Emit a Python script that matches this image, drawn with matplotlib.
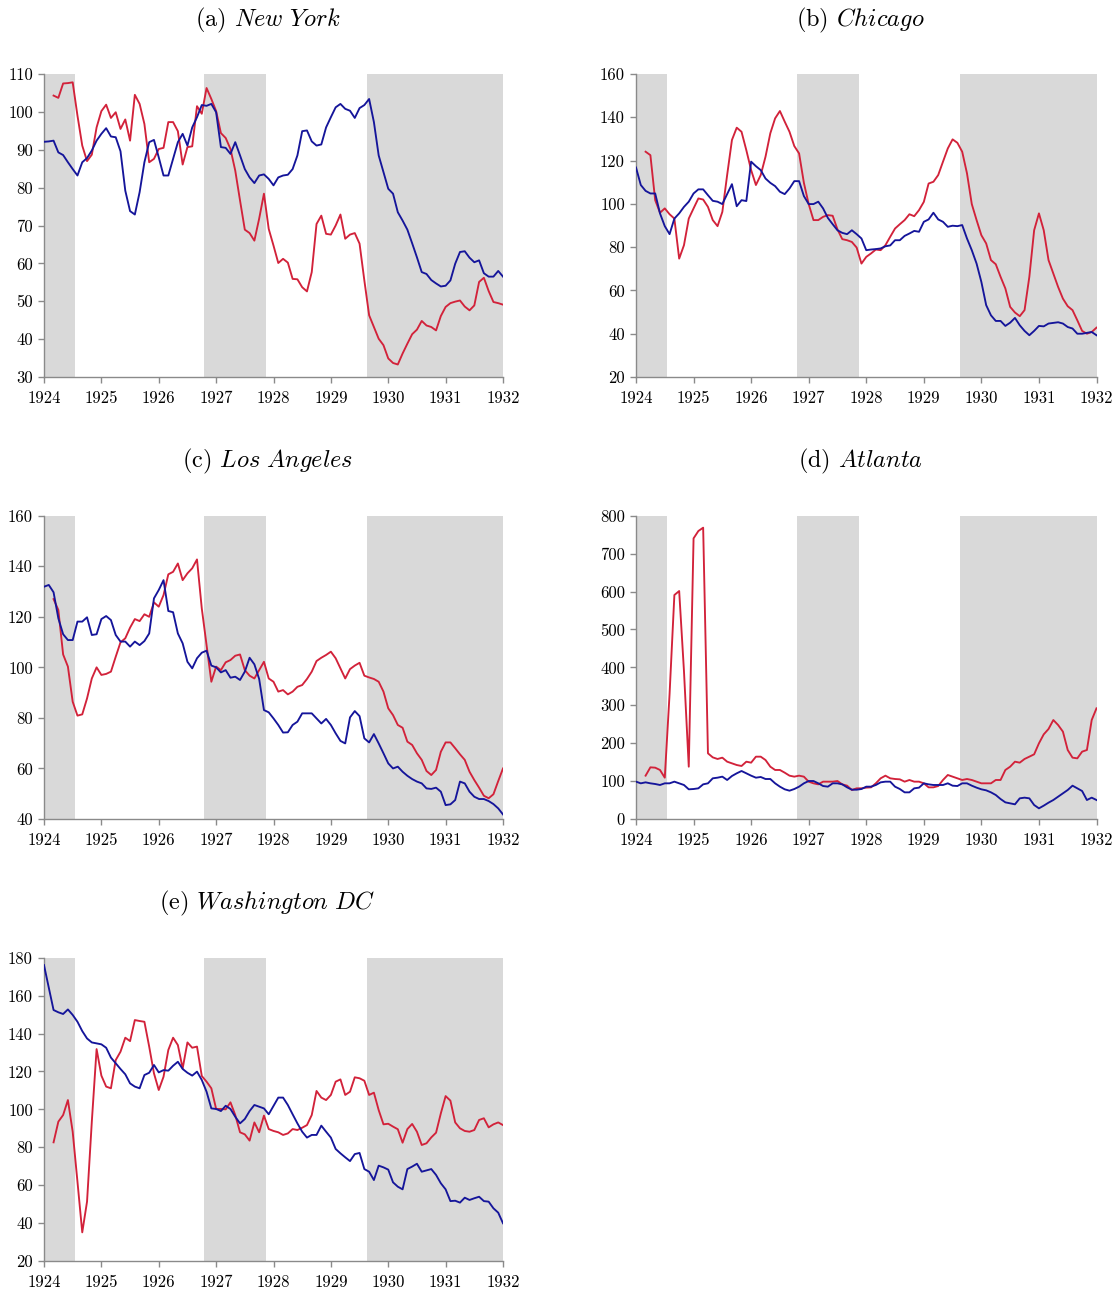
import numpy as np
import matplotlib
matplotlib.use("Agg")
import matplotlib.pyplot as plt

nan = np.nan
years = [1924, 1925, 1926, 1927, 1928, 1929, 1930, 1931, 1932]
# recession shading in months since Jan 1924 (month centres)
recessions = [(-0.5, 6.5), (33.5, 46.5), (67.5, 96.0)]

ny_blue = [92.1, 92.2, 92.4, 89.3, 88.6, 86.7, 84.9, 83.2, 86.7, 87.8,
           89.8, 92.4, 94.2, 95.7, 93.5, 93.3, 89.6, 79.2, 73.8, 72.9,
           78.8, 86.7, 92.0, 92.6, 88.0, 83.2, 83.2, 87.6, 92.0, 94.2,
           91.1, 95.9, 98.6, 101.8, 101.6, 102.1, 99.9, 90.7, 90.5, 88.9,
           92.0, 88.5, 84.9, 82.7, 81.2, 83.2, 83.5, 82.3, 80.6, 82.7,
           83.2, 83.4, 84.9, 88.5, 94.9, 95.1, 92.2, 91.1, 91.4, 95.9,
           98.6, 101.2, 102.1, 100.8, 100.3, 98.4, 101.0, 101.8, 103.4, 97.3,
           88.5, 84.1, 79.7, 78.4, 73.5, 71.3, 68.9, 65.3, 61.6, 57.7,
           57.2, 55.6, 54.7, 53.9, 54.1, 55.5, 59.9, 63.0, 63.2, 61.5,
           60.3, 60.8, 57.4, 56.5, 56.5, 58.0, 56.5]
ny_red = [nan, nan, 104.3, 103.7, 107.5, 107.6, 107.8, 99.0, 91.1, 87.0,
          88.7, 95.9, 100.2, 101.9, 98.4, 99.9, 95.5, 98.0, 92.4, 104.5,
          102.1, 96.8, 86.7, 87.6, 90.2, 90.5, 97.3, 97.3, 94.9, 86.1,
          90.7, 90.9, 101.5, 99.5, 106.3, 103.4, 100.2, 94.4, 93.1, 90.2,
          84.5, 76.6, 68.9, 68.0, 66.0, 71.8, 78.4, 69.1, 64.7, 60.1,
          61.2, 60.2, 55.9, 55.8, 53.7, 52.6, 57.7, 70.4, 72.6, 67.8,
          67.6, 70.0, 72.9, 66.5, 67.6, 68.0, 65.2, 55.5, 46.3, 43.2,
          40.1, 38.4, 34.9, 33.7, 33.3, 36.2, 38.8, 41.3, 42.5, 44.8,
          43.6, 43.2, 42.3, 46.1, 48.5, 49.5, 49.9, 50.2, 48.6, 47.6,
          48.9, 55.1, 56.2, 52.7, 49.8, 49.5, 49.1]

chi_blue = [116.8, 108.7, 106.0, 104.8, 104.8, 95.6, 89.7, 86.0, 93.2, 95.6,
            98.6, 101.0, 104.8, 106.7, 106.7, 104.0, 101.4, 101.0, 99.9, 104.5,
            109.1, 98.9, 101.7, 101.3, 119.5, 117.4, 115.6, 111.7, 109.7, 108.2,
            105.6, 104.5, 107.1, 110.5, 110.5, 103.6, 99.9, 99.9, 101.0, 97.9,
            93.5, 90.6, 87.8, 86.6, 86.0, 87.8, 86.0, 84.0, 78.6, 78.9,
            79.1, 79.4, 80.4, 80.8, 83.2, 83.2, 85.2, 86.3, 87.5, 87.1,
            91.7, 92.8, 95.9, 92.8, 91.7, 89.4, 89.9, 89.7, 90.2, 84.0,
            78.6, 72.4, 63.9, 53.2, 48.5, 45.9, 45.9, 43.6, 45.1, 47.3,
            43.9, 41.3, 39.3, 41.3, 43.6, 43.4, 44.7, 45.0, 45.3, 44.7,
            43.1, 42.4, 40.0, 40.0, 40.4, 40.8, 39.3]
chi_red = [nan, nan, 124.1, 122.5, 101.7, 95.9, 97.9, 95.2, 93.2, 74.7,
           80.9, 93.2, 97.9, 102.5, 102.0, 98.6, 92.5, 89.7, 96.3, 113.3,
           129.5, 135.2, 133.3, 124.8, 115.6, 108.7, 113.3, 121.8, 132.6, 139.5,
           142.9, 138.0, 133.3, 126.7, 123.3, 109.7, 99.9, 92.5, 92.5, 94.0,
           94.8, 94.5, 88.2, 83.7, 83.2, 82.4, 79.8, 72.4, 75.5, 77.1,
           78.9, 78.6, 80.9, 84.8, 88.6, 90.6, 92.5, 95.2, 94.3, 97.1,
           100.9, 109.4, 110.2, 113.3, 119.5, 125.6, 129.8, 128.2, 124.1, 114.1,
           99.9, 92.5, 85.5, 81.7, 74.0, 72.1, 66.3, 60.9, 52.4, 49.8,
           48.1, 50.9, 66.3, 87.8, 95.6, 87.8, 74.0, 67.8, 61.6, 56.2,
           52.7, 50.9, 46.2, 41.3, 40.0, 40.8, 42.8]

la_blue = [131.9, 132.6, 129.7, 119.4, 113.1, 110.8, 110.8, 118.1, 118.1, 119.8,
           112.8, 113.1, 119.1, 120.3, 118.7, 112.8, 110.2, 110.2, 108.2, 110.2,
           108.8, 110.4, 113.4, 127.3, 130.6, 134.5, 122.3, 121.8, 113.4, 109.5,
           102.2, 99.6, 103.6, 105.8, 106.6, 100.7, 100.0, 98.0, 98.9, 95.9,
           96.3, 95.0, 98.3, 103.8, 101.2, 95.4, 83.1, 82.2, 79.8, 77.2,
           74.2, 74.3, 77.2, 78.5, 81.8, 81.8, 81.8, 79.8, 77.8, 79.6,
           77.2, 73.9, 70.9, 69.9, 80.2, 82.7, 80.7, 71.9, 70.3, 73.6,
           69.9, 66.0, 62.0, 60.0, 60.7, 58.7, 57.1, 55.8, 54.8, 54.1,
           52.1, 51.9, 52.4, 50.8, 45.5, 45.8, 47.5, 54.8, 54.1, 50.8,
           48.8, 47.9, 47.9, 47.1, 45.9, 44.2, 41.8]
la_red = [nan, nan, 127.0, 122.7, 105.1, 100.3, 86.4, 80.9, 81.4, 87.7,
          95.6, 100.0, 97.0, 97.4, 98.3, 104.2, 109.9, 111.5, 115.7, 119.1,
          118.3, 121.0, 120.0, 125.7, 124.0, 128.6, 136.8, 137.8, 141.1, 134.5,
          137.2, 139.2, 142.7, 123.3, 108.8, 94.3, 100.3, 98.9, 102.0, 102.9,
          104.6, 105.1, 98.9, 96.7, 95.6, 98.9, 102.2, 95.6, 94.3, 90.4,
          91.0, 89.3, 90.4, 92.3, 93.0, 95.4, 98.3, 102.5, 103.8, 104.9,
          106.2, 103.6, 99.6, 95.6, 99.3, 100.7, 101.8, 96.7, 96.0, 95.4,
          94.3, 90.4, 83.8, 81.1, 77.2, 76.1, 70.6, 69.3, 66.0, 63.4,
          59.0, 57.4, 59.4, 66.6, 70.3, 70.3, 68.0, 65.6, 63.4, 58.7,
          55.4, 52.4, 49.2, 48.2, 49.8, 55.0, 60.0]

atl_blue = [98.5, 94.1, 96.7, 94.1, 92.3, 89.7, 94.1, 94.1, 98.5, 94.1,
            89.7, 78.3, 79.1, 80.9, 91.4, 94.1, 107.3, 109.0, 111.7, 102.9,
            113.4, 120.5, 126.6, 120.5, 114.3, 109.0, 110.8, 105.5, 105.5, 94.1,
            85.3, 78.3, 74.7, 79.1, 85.3, 94.1, 100.2, 100.2, 94.1, 87.0,
            85.3, 94.1, 94.1, 91.4, 83.5, 77.3, 77.3, 79.1, 85.3, 85.3,
            89.7, 96.7, 98.5, 98.5, 85.3, 79.1, 70.3, 70.3, 80.9, 82.7,
            94.1, 91.4, 89.7, 89.7, 89.7, 94.1, 87.9, 87.0, 94.1, 94.1,
            87.9, 82.7, 78.3, 75.6, 70.3, 63.3, 52.7, 43.9, 41.3, 38.7,
            54.5, 56.3, 54.5, 36.9, 28.1, 35.2, 43.1, 50.1, 58.9, 67.7,
            76.5, 87.9, 80.9, 73.8, 50.1, 56.3, 50.1]
atl_red = [nan, nan, 114.3, 136.3, 135.4, 129.3, 109.0, 330.0, 590.8, 601.3,
           390.0, 138.0, 740.2, 759.6, 768.4, 173.2, 162.6, 158.3, 161.8, 151.2,
           146.8, 142.4, 139.8, 151.2, 148.6, 164.4, 164.4, 155.6, 138.0, 129.3,
           129.3, 122.2, 114.3, 111.7, 114.3, 111.7, 98.5, 94.1, 91.4, 98.5,
           98.5, 98.5, 100.2, 91.4, 87.9, 76.5, 80.9, 80.9, 82.7, 83.5,
           94.1, 107.3, 114.3, 107.3, 105.5, 104.6, 98.5, 102.9, 98.5, 98.5,
           94.1, 83.5, 83.5, 87.0, 102.9, 116.1, 111.7, 107.3, 102.9, 105.5,
           102.9, 98.5, 94.1, 94.1, 94.1, 102.9, 102.9, 129.3, 138.0, 151.2,
           148.6, 158.3, 164.4, 170.6, 199.6, 223.3, 237.4, 261.1, 247.9, 230.4,
           182.0, 161.8, 160.0, 177.6, 182.0, 261.1, 291.9]

dc_blue = [176.1, 164.2, 152.4, 151.2, 150.3, 152.7, 149.8, 146.2, 141.3, 137.4,
           135.3, 134.8, 134.3, 132.5, 127.3, 124.3, 121.3, 118.5, 113.7, 112.0,
           111.1, 118.1, 119.3, 123.4, 119.5, 120.7, 120.4, 123.0, 125.1, 121.3,
           119.3, 117.8, 119.9, 115.5, 109.3, 100.5, 100.2, 99.1, 101.9, 100.2,
           96.1, 92.6, 94.9, 99.1, 102.3, 101.4, 100.5, 97.4, 101.8, 106.2,
           106.2, 102.3, 97.4, 92.6, 88.2, 85.1, 86.5, 86.5, 91.4, 88.2,
           85.1, 79.1, 76.8, 74.7, 72.7, 76.4, 77.0, 68.5, 67.1, 62.7,
           70.3, 69.4, 68.2, 61.5, 59.2, 57.8, 68.5, 69.8, 71.3, 67.1,
           67.8, 68.5, 65.4, 61.0, 57.8, 51.6, 51.8, 50.8, 53.4, 52.2,
           53.1, 53.9, 51.6, 51.3, 47.8, 45.5, 39.9]
dc_red = [nan, nan, 82.6, 93.5, 97.0, 104.9, 88.2, 61.8, 35.1, 51.3,
          93.5, 131.8, 117.8, 112.0, 111.1, 126.0, 130.4, 137.8, 136.0, 147.1,
          146.6, 146.2, 133.1, 119.0, 110.2, 117.2, 131.3, 137.8, 133.9, 121.6,
          135.3, 132.5, 133.1, 117.6, 114.6, 111.1, 100.2, 100.2, 100.0, 103.7,
          97.0, 87.9, 86.8, 83.5, 93.1, 87.9, 96.7, 89.6, 88.6, 87.9,
          86.5, 87.3, 89.6, 89.1, 90.3, 91.7, 97.0, 109.7, 106.2, 104.9,
          107.6, 114.6, 115.8, 107.6, 109.3, 116.9, 116.4, 115.1, 107.6, 108.8,
          99.6, 92.1, 92.4, 90.9, 89.5, 82.4, 89.6, 92.3, 88.2, 81.2,
          82.1, 85.2, 87.7, 97.9, 107.0, 104.6, 93.1, 90.0, 88.6, 88.2,
          89.1, 94.4, 95.3, 90.5, 92.1, 93.1, 91.7]

titles = ["(a) ", "(b) ", "(c) ", "(d) ", "(e) "]
cities = ["New York", "Chicago", "Los Angeles", "Atlanta", "Washington DC"]
yticks = [list(range(30, 111, 10)), list(range(20, 161, 20)), list(range(40, 161, 20)),
          list(range(0, 801, 100)), list(range(20, 181, 20))]
series = [(ny_blue, ny_red), (chi_blue, chi_red), (la_blue, la_red),
          (atl_blue, atl_red), (dc_blue, dc_red)]

plt.rcParams['font.family'] = ['cmr10', 'DejaVu Serif']
plt.rcParams['mathtext.fontset'] = 'cm'
plt.rcParams['axes.unicode_minus'] = False

BLUE = "#15159a"
RED = "#d2223a"
SHADE = "#d9d9d9"
SPINE = "#8a8a8a"

W, H = 1116, 1293
fig = plt.figure(figsize=(W / 100, H / 100), dpi=100)

boxes = [(44, 74, 503, 377), (636, 74, 1096.5, 377),
         (44, 515.7, 503, 819), (636, 515.7, 1096.5, 819),
         (44, 957.7, 503, 1261)]

for i, (l, t, r, b) in enumerate(boxes):
    ax = fig.add_axes([l / W, 1 - b / H, (r - l) / W, (b - t) / H])
    blue, red = series[i]
    n = len(blue)
    x = years[0] + np.arange(n) / 12.0
    for s, e in recessions:
        ax.axvspan(years[0] + s / 12.0, years[0] + e / 12.0, color=SHADE, lw=0, zorder=0)
    ax.plot(x, blue, color=BLUE, lw=1.35, zorder=3)
    ax.plot(x, red, color=RED, lw=1.35, zorder=2)
    ax.set_xlim(years[0], years[-1])
    yt = yticks[i]
    ax.set_ylim(yt[0], yt[-1])
    ax.set_yticks(yt)
    ax.set_yticklabels([str(v) for v in yt])
    ax.set_xticks(years)
    ax.set_xticklabels([str(v) for v in years])
    for sp in ['top', 'right']:
        ax.spines[sp].set_visible(False)
    for sp in ['left', 'bottom']:
        ax.spines[sp].set_color(SPINE)
        ax.spines[sp].set_linewidth(1.0)
    ax.tick_params(axis='both', which='major', length=4, width=1.0, color=SPINE,
                   labelsize=12, pad=4, labelcolor='black')
    ax.tick_params(axis='x', pad=6)
    ax.tick_params(axis='y', pad=4)
    ax.set_facecolor('white')
    cx = (l + r) / 2 - 6
    fig.text(cx / W, 1 - (t - 54) / H, titles[i] + r"$" + cities[i].replace(" ", r"\ ") + r"$",
             ha='center', va='center', fontsize=17.5)

fig.savefig("out.png", dpi=100)
